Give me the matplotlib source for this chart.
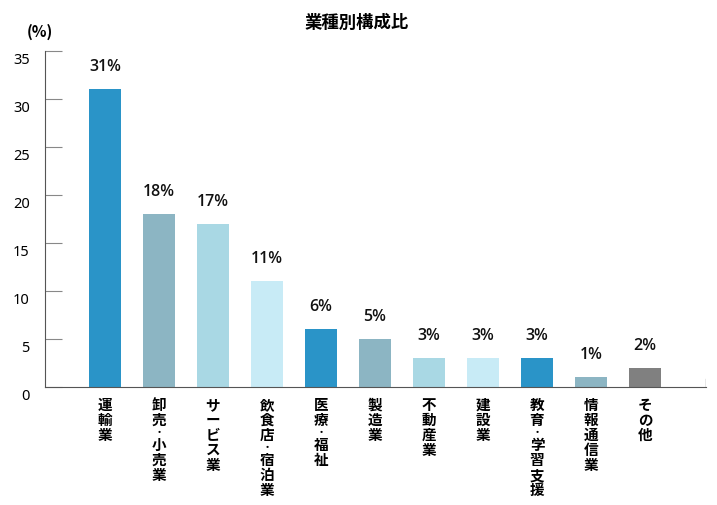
import matplotlib.pyplot as plt
from matplotlib.transforms import ScaledTranslation

plt.rcParams['font.family'] = ['Noto Sans CJK JP', 'DejaVu Sans']

categories = ['運輸業', '卸売・小売業', 'サービス業', '飲食店・宿泊業', '医療・福祉',
              '製造業', '不動産業', '建設業', '教育・学習支援', '情報通信業', 'その他']
values = [31, 18, 17, 11, 6, 5, 3, 3, 3, 1, 2]
colors = ['#2a94c8', '#8cb5c3', '#a9d8e4', '#c8ebf6', '#2a94c8', '#8cb5c3',
          '#a9d8e4', '#c8ebf6', '#2a94c8', '#8cb5c3', '#808080']
yticks = [0, 5, 10, 15, 20, 25, 30, 35]

fig = plt.figure(figsize=(7.17, 5.06), dpi=100)
ax = fig.add_axes([0.0628, 0.2332, 0.9219, 0.664])

x = list(range(len(categories)))
ax.bar(x, values, width=0.59, color=colors)

for xi, v in zip(x, values):
    ax.annotate(f'{v}%', (xi, v), xytext=(0, 11), textcoords='offset points',
                ha='center', va='bottom', fontsize=11.5, fontweight='semibold',
                family=['Open Sans', 'DejaVu Sans'], color='#111111')

ax.set_xlim(-1.11, 11.13)
ax.set_ylim(0, 35)
ax.set_yticks(yticks)
ax.tick_params(axis='y', direction='in', length=12, color='#888888', labelsize=10.5, pad=11)
ax.set_xticks([])
# labels sit a little below their ticks in the original
shift = ScaledTranslation(0, -6 / 100, fig.dpi_scale_trans)
for lab in ax.get_yticklabels():
    lab.set_transform(lab.get_transform() + shift)
    lab.set_family(['Noto Sans', 'DejaVu Sans'])

for s in ['top', 'right']:
    ax.spines[s].set_visible(False)
ax.spines['left'].set_color('#555555')
ax.spines['bottom'].set_color('#555555')
ax.axvline(11.13, ymin=0, ymax=0.025, color='#888888', lw=1)

# vertical (tategaki) labels, one character at a time, in pixels below the axis
for xi, c in zip(x, categories):
    y = 17
    prev = None
    for ch in c:
        if prev is not None:
            y += 12.5 if (ch == '・' or prev == '・') else 15
        ax.annotate(ch, (xi, 0), xycoords=('data', 'axes fraction'),
                    xytext=(0, -y * 0.72), textcoords='offset points',
                    ha='center', va='center', fontweight='bold',
                    fontsize=6.5 if ch == '・' else 10.5)
        prev = ch

ax.text(-0.008, 1.035, '(%)', transform=ax.transAxes, ha='center', va='bottom',
        fontsize=11, fontweight='bold')
fig.text(0.498, 0.955, '業種別構成比', ha='center', va='center', fontsize=12.5, fontweight='bold')

fig.savefig('out.png', dpi=100)
